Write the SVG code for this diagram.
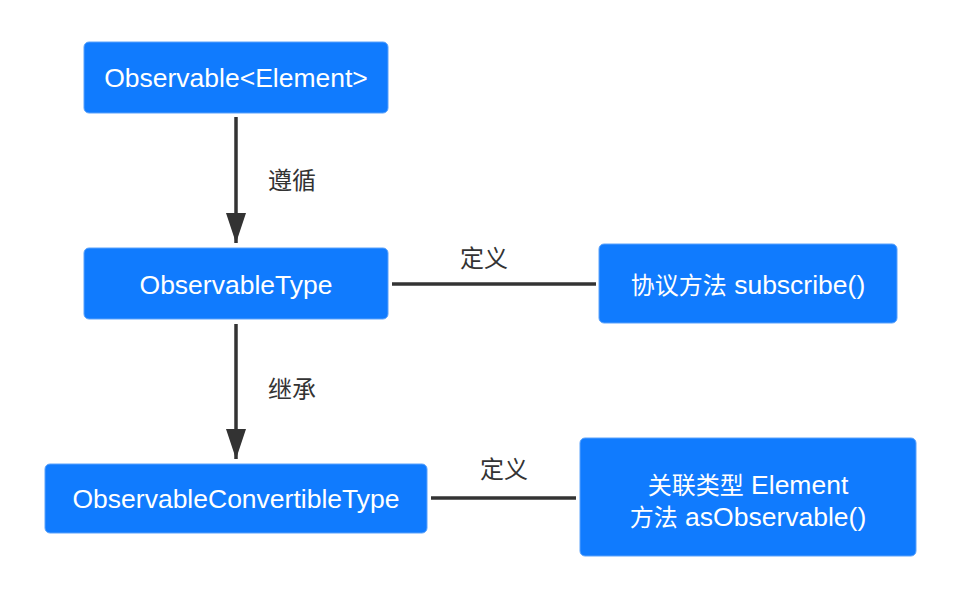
<svg xmlns="http://www.w3.org/2000/svg" width="966" height="596" viewBox="0 0 966 596">
<style>
.node{fill:#107BFE;stroke:#5aa2fb;stroke-width:1}
.nt{fill:#ffffff;font-family:"Liberation Sans","Noto Sans CJK SC",sans-serif;font-size:26.5px;text-anchor:middle;dominant-baseline:central}
.cjk{font-size:24px}
.lbl{fill:#333333;font-family:"Liberation Sans","Noto Sans CJK SC",sans-serif;font-size:24px;text-anchor:middle;dominant-baseline:central}
.edge{stroke:#333333;stroke-width:3.5;fill:none}
</style>
<defs>
<marker id="arr" viewBox="0 0 30 20" refX="30" refY="10" markerWidth="30" markerHeight="20" markerUnits="userSpaceOnUse" orient="auto">
<path d="M0,0 L30,10 L0,20 Z" fill="#333333"/>
</marker>
</defs>
<rect width="966" height="596" fill="#ffffff"/>
<g id="connectors">
<line class="edge" x1="236" y1="117" x2="236" y2="243" marker-end="url(#arr)"/>
<line class="edge" x1="236" y1="324" x2="236" y2="459" marker-end="url(#arr)"/>
<line class="edge" x1="392" y1="284" x2="596" y2="284"/>
<line class="edge" x1="431" y1="498" x2="576" y2="498"/>
<text class="lbl" x="292" y="180">遵循</text>
<text class="lbl" x="292" y="389">继承</text>
<text class="lbl" x="484" y="258">定义</text>
<text class="lbl" x="504" y="469">定义</text>
</g>
<g id="observable">
<rect class="node" x="84" y="42" width="304" height="71" rx="5"/>
<text class="nt" x="236" y="78">Observable&lt;Element&gt;</text>
</g>
<g id="observableType">
<rect class="node" x="84" y="248" width="304" height="71" rx="5"/>
<text class="nt" x="236" y="285">ObservableType</text>
</g>
<g id="subscribe">
<rect class="node" x="599" y="244" width="298" height="79" rx="5"/>
<text class="nt" x="748" y="285"><tspan class="cjk">协议方法</tspan> subscribe()</text>
</g>
<g id="convertible">
<rect class="node" x="45" y="464" width="382" height="69" rx="5"/>
<text class="nt" x="236" y="499">ObservableConvertibleType</text>
</g>
<g id="asObservable">
<rect class="node" x="580" y="438" width="336" height="118" rx="5"/>
<text class="nt" x="748" y="485"><tspan class="cjk">关联类型</tspan> Element</text>
<text class="nt" x="748" y="517"><tspan class="cjk">方法</tspan> asObservable()</text>
</g>
</svg>
